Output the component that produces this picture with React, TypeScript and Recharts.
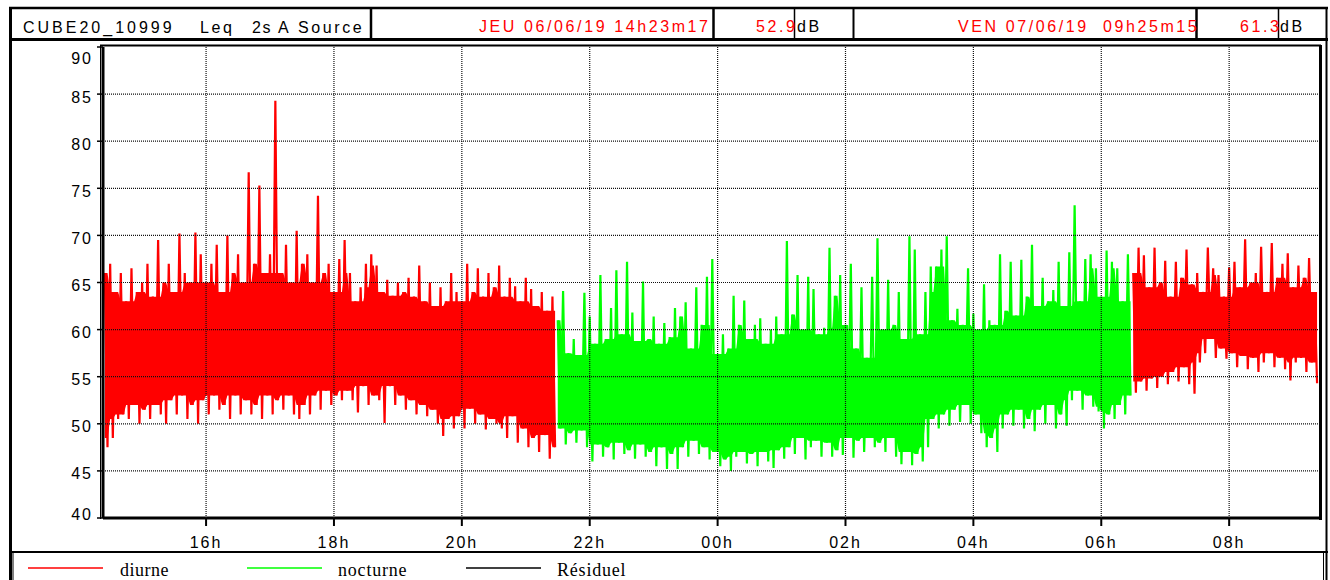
import React from "react";
import { ComposedChart, Line, Area, XAxis, YAxis, ReferenceLine } from "recharts";

// time in minutes from 00h of the first day
const START = 863.28; // JEU 14h23m17
const END = 2005.25; // VEN 09h25m15
const STEP = 5;

const X_TICKS = [960, 1080, 1200, 1320, 1440, 1560, 1680, 1800, 1920];
const X_LABELS = ["16h", "18h", "20h", "22h", "00h", "02h", "04h", "06h", "08h"];
const Y_TICKS = [40, 45, 50, 55, 60, 65, 70, 75, 80, 85, 90];
const GRID_Y = [45, 50, 55, 60, 65, 70, 75, 80, 85];

// diurne 14h25 -> 21h25, peaks and troughs every 5 min
const DIURNE1_T0 = 865;
const diurne1Hi = [
  66, 67, 64, 66, 63, 66.5, 64, 65, 67, 63.5,
  69.5, 65, 67, 64, 70.2, 66, 65, 70.3, 68, 65,
  67, 69, 64, 70, 66, 68, 65, 76.7, 67, 75.3,
  66, 68, 84.3, 66, 69, 65, 70.5, 67, 68, 65,
  74.2, 66, 67, 64, 67.5, 69.5, 66, 63, 64.5, 67,
  68, 66.8, 64, 65.3, 63.6, 65, 64, 65.5, 63.5, 66.8,
  63, 65, 62.5, 64.5, 63, 66, 64, 63, 67, 64,
  66.5, 63.5, 66, 64.5, 66.8, 63.5, 65.5, 64.6, 63, 65.5,
  64.3, 62.5, 64, 62, 63.5,
];
const diurne1Lo = [
  47.5, 48.5, 50.5, 51, 50.5, 52, 50, 51.5, 50.5, 52,
  51, 50, 52.5, 51, 53, 50.5, 52, 50, 52.5, 51,
  53, 51.5, 52, 50.5, 53, 51, 52.5, 51, 52, 50.5,
  53, 51, 52.5, 51.5, 53, 51, 50.5, 52, 51, 53,
  51.5, 53.5, 52, 53, 52.5, 53.5, 52.5, 51.2, 54, 52,
  53, 52.5, 50.1, 54, 52, 53, 51.5, 52.5, 51, 52,
  50.8, 51.5, 50, 48.7, 50.5, 49.5, 50.8, 49.5, 51.6, 50,
  51, 49.4, 50.5, 50, 49.5, 48.5, 50.8, 48, 49.5, 47.5,
  48.5, 47, 48.8, 46.3, 47.5,
];

// nocturne 21h30 -> 06h25
const NOCTURNE_T0 = 1290;
const nocturneHi = [
  61, 64.1, 57.5, 59, 57.3, 63.9, 61.4, 58.5, 65.8, 59,
  62.3, 66.3, 59.5, 67.2, 61.8, 58.8, 65.1, 59, 61.4, 58.5,
  60.7, 59.2, 62.3, 61.4, 62.9, 58, 64.5, 60.5, 65.6, 67.5,
  57.4, 59.5, 58, 63.6, 60.5, 63.1, 59, 60.5, 61.2, 58.5,
  60, 61.4, 59.5, 69.4, 61.6, 65.8, 60, 65.6, 64.3, 59.5,
  60.2, 68.7, 63.6, 65.8, 60.5, 67, 58, 64.5, 57, 65.6,
  69.7, 60, 65.3, 60.5, 64, 59, 69.9, 68.5, 59.5, 64,
  66.7, 66.7, 68.5, 69.9, 61, 62.2, 60.5, 66.5, 61.7, 60,
  64.8, 61, 60.5, 68, 62, 67.2, 61.5, 67.4, 63.5, 69,
  62.5, 65.5, 63, 64.2, 67.2, 62.5, 68.2, 73.2, 63, 67.5,
  68, 66.5, 63.5, 68.4, 67.2, 66.5, 63, 68,
];
const nocturneLo = [
  49.5, 47.8, 49, 48, 49.3, 47.5, 46, 47.8, 46.5, 47.5,
  46.2, 48, 46.8, 47.2, 46.3, 47.8, 46.5, 47, 45.5, 47.5,
  45.2, 46.8, 45.2, 47.5, 46.5, 48.2, 46.8, 47.5, 46.2, 47,
  45.5, 46.2, 45, 46.5, 47, 45.8, 46.8, 45.5, 47, 46,
  45.3, 47.2, 46.3, 47.5, 46.8, 48.5, 46.2, 47.5, 48.2, 46.5,
  48, 46.5, 47.2, 46.7, 48.5, 46.4, 48.2, 47, 48.5, 47.5,
  48, 47, 48.5, 46.5, 45.7, 47, 45.6, 46.8, 46, 47.5,
  50.5, 49.5, 51, 49.8, 51.5, 50.2, 52, 50, 51, 49,
  47.5, 48.5, 47, 49.5, 51, 49.8, 51.5, 49.5, 50.5, 49.2,
  51.5, 50, 52, 49.5, 51, 49.8, 52.5, 53.5, 51.5, 53,
  51.8, 51.3, 49.5, 51, 50.5, 52, 51, 53,
];

// diurne 06h30 -> 09h20
const DIURNE2_T0 = 1830;
const diurne2Hi = [
  66, 68.7, 67.9, 64.5, 68.7, 65, 67.3, 63.5, 67.2, 65.5,
  68.5, 64.8, 66, 64, 68.7, 66.5, 65.8, 63.5, 66.6, 67.2,
  64.5, 69.6, 65, 66, 68.8, 64, 69.2, 65.5, 67, 68.1,
  64.5, 66.8, 65.5, 67.6, 64,
];
const diurne2Lo = [
  53.3, 54.5, 53.5, 54.8, 53.8, 55, 54.2, 55.5, 54.5, 56,
  54.2, 53.2, 56.5, 57.5, 59, 57, 58, 56.9, 57.5, 56,
  57.2, 55.8, 57, 55.5, 56.5, 57.5, 56, 57, 55.8, 54.6,
  56.5, 57, 55.5, 56.5, 54.3,
];

type Row = {
  t: number;
  diurne?: number;
  nocturne?: number;
  diurneCore?: [number, number];
  nocturneCore?: [number, number];
};

// each 5 min slot: peak then trough; the dense core is where the neighbouring
// peaks and troughs overlap
function addSegment(rows: Row[], t0: number, hi: number[], lo: number[], key: "diurne" | "nocturne") {
  const n = hi.length;
  hi.forEach((h, i) => {
    const a = Math.max(0, i - 1);
    const b = Math.min(n - 1, i + 1);
    const core: [number, number] = [
      Math.max(lo[a], lo[i], lo[b]),
      Math.min(hi[a], hi[i], hi[b]),
    ];
    rows.push({ t: t0 + i * STEP, [key]: h, [key + "Core"]: core });
    rows.push({ t: t0 + i * STEP + STEP / 2, [key]: lo[i], [key + "Core"]: core });
  });
}

const rows: Row[] = [];
addSegment(rows, DIURNE1_T0, diurne1Hi, diurne1Lo, "diurne");
addSegment(rows, NOCTURNE_T0, nocturneHi, nocturneLo, "nocturne");
addSegment(rows, DIURNE2_T0, diurne2Hi, diurne2Lo, "diurne");

const SANS = "'Liberation Sans', Arial, sans-serif";
const SERIF = "'Liberation Serif', 'Times New Roman', serif";
const MARGIN = { top: 47, right: 10, bottom: 0, left: 0 };

function XTick(props: any) {
  const { x, y, payload } = props;
  const label = X_LABELS[X_TICKS.indexOf(payload.value)];
  return (
    <text x={x} y={y} textAnchor="middle" dominantBaseline="central" fontSize={16} letterSpacing={2} fill="#000" fontFamily={SANS}>
      {label}
    </text>
  );
}

function YTick(props: any) {
  const { x, y, payload } = props;
  const v = payload.value;
  const dy = v === 90 ? 11 : v === 40 ? -4 : 3;
  return (
    <text x={x} y={y + dy} textAnchor="end" dominantBaseline="central" fontSize={16} letterSpacing={2} fill="#000" fontFamily={SANS}>
      {v}
    </text>
  );
}

// dotted grid drawn over the data, like the source plot
function GridOverlay() {
  return (
    <ComposedChart width={1330} height={560} data={rows} margin={{ top: 47, right: 10, bottom: 42, left: 103 }}>
      <XAxis type="number" dataKey="t" domain={[START, END]} ticks={X_TICKS} allowDataOverflow hide />
      <YAxis type="number" domain={[40, 90]} ticks={Y_TICKS} allowDataOverflow hide />
      {GRID_Y.map((v) => (
        <ReferenceLine key={"y" + v} y={v} stroke="#111" strokeWidth={1.2} strokeDasharray="1 1" />
      ))}
      {X_TICKS.map((v) => (
        <ReferenceLine key={"x" + v} x={v} stroke="#111" strokeWidth={1.2} strokeDasharray="1 1" />
      ))}
    </ComposedChart>
  );
}

function Frame() {
  const head = { fontSize: 16, letterSpacing: 2.6, fontFamily: SANS } as const;
  const seps = [371, 713.5, 794.5, 853.5, 1196.5, 1278.5];
  const sepW = [2.5, 2.5, 1.5, 2, 2.5, 1.5];
  return (
    <svg width={1330} height={580} style={{ position: "absolute", left: 0, top: 0, pointerEvents: "none" }}>
      <defs>
        <clipPath id="c1">
          <rect x={12} y={9} width={357} height={30} />
        </clipPath>
      </defs>
      {/* outer frame */}
      <line x1={10.5} x2={10.5} y1={7} y2={580} stroke="#000" strokeWidth={3} />
      <line x1={9} x2={1328} y1={8} y2={8} stroke="#000" strokeWidth={2.5} />
      <line x1={1326.5} x2={1326.5} y1={7} y2={580} stroke="#000" strokeWidth={2} />
      {/* header row */}
      <line x1={9} x2={1328} y1={39.5} y2={39.5} stroke="#000" strokeWidth={3} />
      {seps.map((x, i) => (
        <line key={x} x1={x} x2={x} y1={8} y2={40} stroke="#000" strokeWidth={sepW[i]} />
      ))}
      <g clipPath="url(#c1)" {...head} fill="#000">
        <text x={23} y={33} letterSpacing={3}>CUBE20_10999</text>
        <text x={200} y={33}>Leq</text>
        <text x={252} y={33} letterSpacing={1.5}>2s</text>
        <text x={278} y={33}>A</text>
        <text x={298} y={33}>Source</text>
      </g>
      <g {...head}>
        <text x={479} y={32} fill="#ff0000">JEU 06/06/19 14h23m17</text>
        <text x={756} y={32} fill="#ff0000">52.9</text>
        <text x={797} y={32} fill="#000">dB</text>
        <text x={958} y={32} fill="#ff0000" style={{ whiteSpace: "pre" }}>VEN 07/06/19  09h25m15</text>
        <text x={1240} y={32} fill="#ff0000">61.3</text>
        <text x={1280} y={32} fill="#000">dB</text>
      </g>
      {/* plot box */}
      <line x1={100} x2={1321} y1={45.5} y2={45.5} stroke="#000" strokeWidth={2} />
      <line x1={100.5} x2={100.5} y1={45} y2={519} stroke="#000" strokeWidth={1} />
      <line x1={1320.5} x2={1320.5} y1={45} y2={520} stroke="#000" strokeWidth={3} />
      {/* legend row */}
      <line x1={9} x2={1328} y1={552} y2={552} stroke="#000" strokeWidth={2} />
      <line x1={13} x2={13} y1={552} y2={580} stroke="#000" strokeWidth={1} />
      <line x1={1323.5} x2={1323.5} y1={552} y2={580} stroke="#000" strokeWidth={1} />
      <line x1={28} x2={103} y1={568} y2={568} stroke="#ff0000" strokeWidth={1.5} />
      <line x1={247} x2={322} y1={568} y2={568} stroke="#00ff00" strokeWidth={1.5} />
      <line x1={466} x2={541} y1={568} y2={568} stroke="#000" strokeWidth={1.5} />
      <g fontFamily={SERIF} fontSize={18} fill="#000">
        <text x={120} y={576} letterSpacing={0.5}>diurne</text>
        <text x={338} y={576} letterSpacing={0.8}>nocturne</text>
        <text x={557} y={576} letterSpacing={0.8}>Résiduel</text>
      </g>
    </svg>
  );
}

export default function App() {
  return (
    <div style={{ position: "absolute", left: 0, top: 0, width: 1330, height: 580, background: "#fff", overflow: "hidden" }}>
      <div style={{ position: "absolute", left: 0, top: 0 }}>
        <ComposedChart width={1330} height={560} data={rows} margin={MARGIN}>
          <XAxis
            type="number"
            dataKey="t"
            domain={[START, END]}
            ticks={X_TICKS}
            interval={0}
            allowDataOverflow
            height={42}
            axisLine={{ stroke: "#000", strokeWidth: 3 }}
            tickLine={{ stroke: "#000", strokeWidth: 2 }}
            tickSize={8}
            tickMargin={16}
            tick={(p: any) => <XTick {...p} />}
          />
          <YAxis
            type="number"
            domain={[40, 90]}
            ticks={Y_TICKS}
            interval={0}
            allowDataOverflow
            width={103}
            axisLine={{ stroke: "#000", strokeWidth: 3 }}
            tickLine={{ stroke: "#000", strokeWidth: 1.5 }}
            tickSize={6}
            tickMargin={4}
            tick={(p: any) => <YTick {...p} />}
          />
          <Area dataKey="diurneCore" stroke="none" fill="#ff0000" fillOpacity={1} isAnimationActive={false} />
          <Area dataKey="nocturneCore" stroke="none" fill="#00ff00" fillOpacity={1} isAnimationActive={false} />
          <Line dataKey="diurne" stroke="#ff0000" strokeWidth={2.2} dot={false} isAnimationActive={false} />
          <Line dataKey="nocturne" stroke="#00ff00" strokeWidth={2.2} dot={false} isAnimationActive={false} />
        </ComposedChart>
      </div>
      <div style={{ position: "absolute", left: 0, top: 0, pointerEvents: "none" }}>
        <GridOverlay />
      </div>
      <Frame />
    </div>
  );
}
